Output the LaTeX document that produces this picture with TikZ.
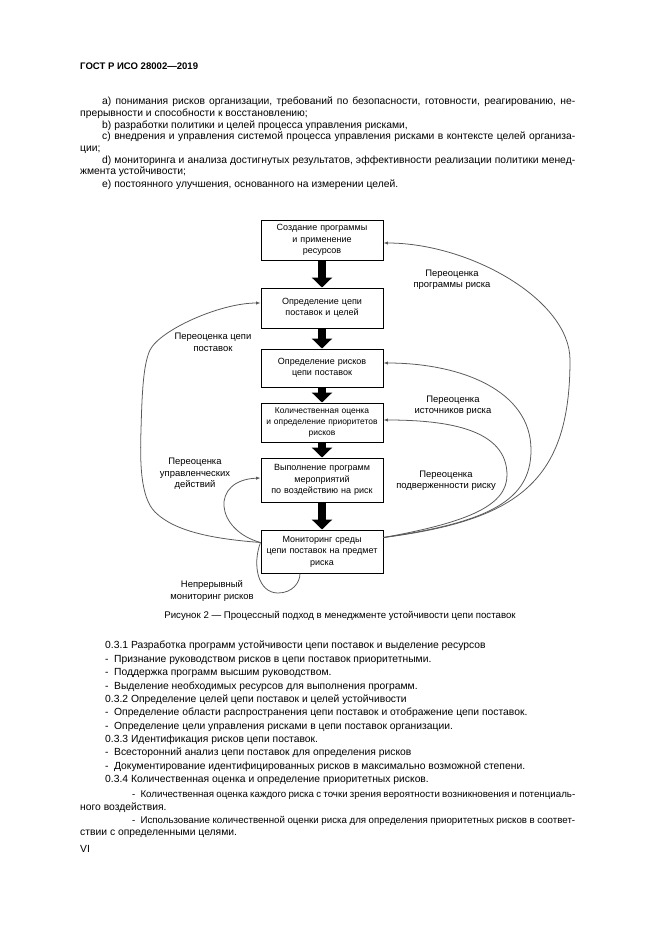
\documentclass[tikz,border=0pt]{standalone}
\usepackage{fontspec}
\setmainfont{Liberation Sans}
\usetikzlibrary{arrows.meta,calc}
\begin{document}
\begin{tikzpicture}[x=0.9pt,y=-0.9pt,
  txt/.style={inner sep=0pt, anchor=mid west, font=\fontsize{9.3}{11}\selectfont},
  box/.style={draw, line width=0.9pt, align=center, inner sep=0pt, text width=108pt,
    minimum width=109.8pt, font=\fontsize{8.1}{10.3}\selectfont},
  lbl/.style={align=center, inner sep=0pt, font=\fontsize{8.5}{10.3}\selectfont},
  flow/.style={line width=8pt, -{Triangle[length=9pt,width=18pt]}},
  fb/.style={draw=black!65, line width=0.7pt, -{Latex[length=4pt,width=3pt]}},
  fbn/.style={draw=black!65, line width=0.7pt}]
\useasboundingbox[fill=white] (0,0) rectangle (661,935);

% header and top text
\node[txt, font=\fontsize{8.6}{11}\selectfont\bfseries] (hdr) at (80,67) {ГОСТ Р ИСО 28002—2019};
\node[txt] (t1) at (102,102) {\makebox[425.7pt][s]{а) понимания рисков организации, требований по безопасности, готовности, реагированию, не-}};
\node[txt] (t2) at (80,114) {прерывности и способности к восстановлению;};
\node[txt] (t3) at (102,126) {b) разработки политики и целей процесса управления рисками,};
\node[txt] (t4) at (102,137) {\makebox[425.7pt][s]{c) внедрения и управления системой процесса управления рисками в контексте целей организа-}};
\node[txt] (t5) at (80,149) {ции;};
\node[txt] (t6) at (102,161) {\makebox[425.7pt][s]{d) мониторинга и анализа достигнутых результатов, эффективности реализации политики менед-}};
\node[txt] (t7) at (80,172) {жмента устойчивости;};
\node[txt] (t8) at (102,185) {e) постоянного улучшения, основанного на измерении целей.};

% boxes
\node[box, minimum height=36pt]   (b1) at (322,240)   {Создание программы\\и применение\\ресурсов};
\node[box, minimum height=36pt]   (b2) at (322,308)   {Определение цепи\\поставок и целей};
\node[box, minimum height=34.2pt] (b3) at (322,368)   {Определение рисков\\цепи поставок};
\node[box, minimum height=35.1pt, font=\fontsize{7.6}{10.3}\selectfont] (b4) at (322,422.5) {Количественная оценка\\и определение приоритетов\\рисков};
\node[box, minimum height=39.6pt] (b5) at (322,480)   {Выполнение программ\\мероприятий\\по воздействию на риск};
\node[box, minimum height=38.7pt] (b6) at (322,551.5) {Мониторинг среды\\цепи поставок на предмет\\риска};

% thick arrows
\draw[flow] (b1.south) -- (b2.north);
\draw[flow] (b2.south) -- (b3.north);
\draw[flow] (b3.south) -- (b4.north);
\draw[flow] (b4.south) -- (b5.north);
\draw[flow] (b5.south) -- (b6.north);

% feedback curves, right
\draw[fb] ($(b6.east)+(0,-14)$) .. controls (520,520) and (570,480) .. (570,360)
  .. controls (570,300) and (470,243) .. ($(b1.east)+(0,3)$);
\draw[fb] ($(b6.east)+(0,-14)$) .. controls (490,522) and (531,500) .. (531,450)
  .. controls (531,390) and (460,363) .. ($(b3.east)+(0,-5)$);
\draw[fb] ($(b6.east)+(0,-14)$) .. controls (470,522) and (507,505) .. (507,475)
  .. controls (507,430) and (450,420) .. ($(b4.east)+(0,-2.5)$);

% feedback curves, left
\draw[fb] ($(b6.west)+(0,-9)$) .. controls (215,539) and (175,532) .. (155,512)
  .. controls (140,497) and (140,460) .. (141,430)
  .. controls (142,395) and (143,365) .. (150,350)
  .. controls (160,330) and (220,303) .. ($(b2.west)+(0,-5)$);
\draw[fb] ($(b6.west)+(0,-9)$) .. controls (215,530) and (210,480) .. ($(b5.west)+(0,-2)$);
\draw[fbn] ($(b6.west)+(0,-9)$) .. controls (252,565) and (258,593) .. (278,593)
  .. controls (292,593) and (300,583) .. ($(b6.south)+(-22,0)$);

% labels
\node[lbl] (l1) at (452,280) {Переоценка\\программы риска};
\node[lbl] (l2) at (213,342.5) {Переоценка цепи\\поставок};
\node[lbl] (l3) at (453,406) {Переоценка\\источников риска};
\node[lbl] (l4) at (446,481) {Переоценка\\подверженности риску};
\node[lbl] (l5) at (195,474) {Переоценка\\управленческих\\действий};
\node[lbl] (l6) at (212,591) {Непрерывный\\мониторинг рисков};

% caption
\node[lbl, font=\fontsize{8.7}{10}\selectfont] (cap) at (340,616) {Рисунок 2 — Процессный подход в менеджменте устойчивости цепи поставок};

% lower text
\node[txt] (s1) at (105,646) {0.3.1 Разработка программ устойчивости цепи поставок и выделение ресурсов};
\node[txt] (s2) at (105,660) {\makebox[8pt][l]{-}Признание руководством рисков в цепи поставок приоритетными.};
\node[txt] (s3) at (105,673) {\makebox[8pt][l]{-}Поддержка программ высшим руководством.};
\node[txt] (s4) at (105,687) {\makebox[8pt][l]{-}Выделение необходимых ресурсов для выполнения программ.};
\node[txt] (s5) at (105,700) {0.3.2 Определение целей цепи поставок и целей устойчивости};
\node[txt] (s6) at (105,713) {\makebox[8pt][l]{-}Определение области распространения цепи поставок и отображение цепи поставок.};
\node[txt] (s7) at (105,727) {\makebox[8pt][l]{-}Определение цели управления рисками в цепи поставок организации.};
\node[txt] (s8) at (105,740) {0.3.3 Идентификация рисков цепи поставок.};
\node[txt] (s9) at (105,753) {\makebox[8pt][l]{-}Всесторонний анализ цепи поставок для определения рисков};
\node[txt] (s10) at (105,767) {\makebox[8pt][l]{-}Документирование идентифицированных рисков в максимально возможной степени.};
\node[txt] (s11) at (105,780) {0.3.4 Количественная оценка и определение приоритетных рисков.};
\node[txt, font=\fontsize{8.75}{11}\selectfont] (s12) at (132,795) {\makebox[7.5pt][l]{-}\makebox[391.2pt][s]{Количественная оценка каждого риска с точки зрения вероятности возникновения и потенциаль-}};
\node[txt] (s13) at (80,808) {ного воздействия.};
\node[txt, font=\fontsize{8.75}{11}\selectfont] (s14) at (132,821) {\makebox[7.5pt][l]{-}\makebox[391.2pt][s]{Использование количественной оценки риска для определения приоритетных рисков в соответ-}};
\node[txt] (s15) at (80,833) {ствии с определенными целями.};
\node[txt] (pg) at (80,850) {VI};
\end{tikzpicture}
\end{document}
